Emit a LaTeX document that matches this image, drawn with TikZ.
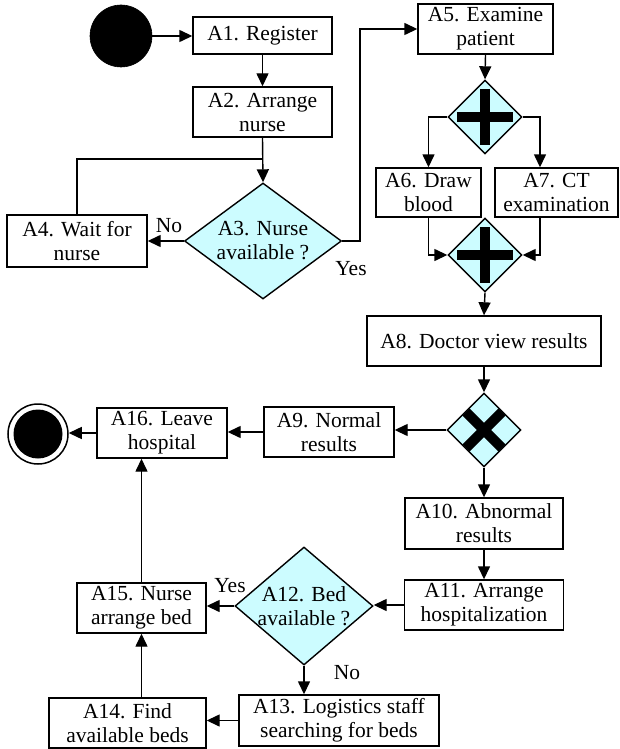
\documentclass[tikz,border=0pt]{standalone}
\usepackage{fontspec}
\setmainfont{Liberation Serif}
\usetikzlibrary{arrows.meta,shapes.geometric}
\definecolor{gwfill}{RGB}{204,252,255}
\begin{document}
\begin{tikzpicture}[x=1pt,y=-1pt,
  every node/.style={font=\fontsize{21.5}{24}\selectfont},
  box/.style={draw, line width=1.4pt, inner sep=0pt, align=center, fill=white},
  decision/.style={draw, line width=1.4pt, shape=diamond, inner sep=0pt, fill=gwfill},
  gateway/.style={draw, line width=1.4pt, shape=diamond, inner sep=0pt, fill=gwfill, minimum width=74pt, minimum height=74pt},
  txt/.style={align=center, inner sep=0pt},
  lbl/.style={inner sep=0pt},
  arr/.style={line width=1.4pt, -{Triangle[length=13pt,width=12pt]}},
  ln/.style={line width=1.4pt},
  bar/.style={line width=10pt}
]
\useasboundingbox (0,0) rectangle (619,749);

% start / end
\node[circle, fill=black, draw=black, line width=0.6pt, minimum size=62pt, inner sep=0pt] (start) at (121,36) {};
\node[circle, fill=white, draw=black, line width=1.5pt, minimum size=60pt, inner sep=0pt] (end) at (38,434) {};
\fill[black] (end.center) circle (24.5pt);

% activities
\node[box, minimum width=139pt, minimum height=37pt] (a1) at (262.5,35.5) {A1. Register};
\node[box, minimum width=139pt, minimum height=50pt] (a2) at (262.5,112) {A2. Arrange\\nurse};
\node[box, minimum width=140pt, minimum height=52pt] (a4) at (77,241) {A4. Wait for\\nurse};
\node[box, minimum width=135pt, minimum height=50pt] (a5) at (485.5,29) {A5. Examine\\patient};
\node[box, minimum width=105pt, minimum height=49pt] (a6) at (428.5,192.5) {A6. Draw\\blood};
\node[box, minimum width=123pt, minimum height=49pt] (a7) at (556.5,192.5) {A7. CT\\examination};
\node[box, minimum width=234pt, minimum height=50pt] (a8) at (484,341) {A8. Doctor view results};
\node[box, minimum width=130pt, minimum height=50pt] (a9) at (329,432) {A9. Normal\\results};
\node[box, minimum width=158pt, minimum height=51pt] (a10) at (484,523.5) {A10. Abnormal\\results};
\node[box, minimum width=159pt, minimum height=50pt] (a11) at (484,605) {A11. Arrange\\hospitalization};
\node[box, minimum width=200pt, minimum height=51pt] (a13) at (339,720.5) {A13. Logistics staff\\searching for beds};
\node[box, minimum width=157pt, minimum height=50pt] (a14) at (127.5,723) {A14. Find\\available beds};
\node[box, minimum width=129pt, minimum height=50pt] (a15) at (141.5,608) {A15. Nurse\\arrange bed};
\node[box, minimum width=130pt, minimum height=50pt] (a16) at (162,433) {A16. Leave\\hospital};

% decisions
\node[decision, minimum width=157pt, minimum height=116pt] (a3) at (263,241) {};
\node[txt] at (a3) {A3. Nurse\\available ?};
\node[decision, minimum width=138pt, minimum height=118pt] (a12) at (304,606) {};
\node[txt] at (a12) {A12. Bed\\available ?};

% gateways
\node[gateway] (g1) at (485,117) {};
\draw[bar] (457,117) -- (513,117) (485,89) -- (485,145);
\node[gateway] (g2) at (485,255) {};
\draw[bar] (457,255) -- (513,255) (485,227) -- (485,283);
\node[gateway] (g3) at (484,430) {};
\draw[bar] (466,412) -- (502,448) (502,412) -- (466,448);

% connectors
\coordinate (join) at (262.5,159);
\coordinate (ya) at (360,241);
\draw[arr] (start.east) -- (start.east -| a1.west);
\draw[arr] (a1) -- (a2);
\draw[arr] (a2.south) -- (a3.north);
\draw[ln] (a4.north) |- (join);
\draw[arr] (a3.west) -- (a4.east);
\draw[arr] (a3.east) -- (ya) |- (a5.west);
\draw[arr] (a5.south) -- (g1.north);
\draw[arr] (g1.west) -| (a6.north);
\draw[arr] (g1.east) -| ([xshift=-16.5pt]a7.north);
\draw[arr] (a6.south) |- (g2.west);
\draw[arr] ([xshift=-16.5pt]a7.south) |- (g2.east);
\draw[arr] (g2.south) -- (a8.north);
\draw[arr] (a8.south) -- (g3.north);
\draw[arr] (g3.west) -- (g3.west -| a9.east);
\draw[arr] (a9.west) -- (a9.west -| a16.east);
\draw[arr] (a16.west) -- (a16.west -| end.east);
\draw[arr] (g3.south) -- (a10.north);
\draw[arr] (a10) -- (a11);
\draw[arr] (a11.west) -- (a11.west -| a12.east);
\draw[arr] (a12.west) -- (a12.west -| a15.east);
\draw[arr] (a12.south) -- (a12.south |- a13.north);
\draw[arr] (a13.west) -- (a13.west -| a14.east);
\draw[arr] (a15.south |- a14.north) -- (a15.south);
\draw[arr] (a15.north) -- (a15.north |- a16.south);

% labels
\node[lbl] (no1) at (169,226) {No};
\node[lbl] (yes1) at (351,269) {Yes};
\node[lbl] (yes2) at (230,586) {Yes};
\node[lbl] (no2) at (347,673) {No};
\end{tikzpicture}
\end{document}
